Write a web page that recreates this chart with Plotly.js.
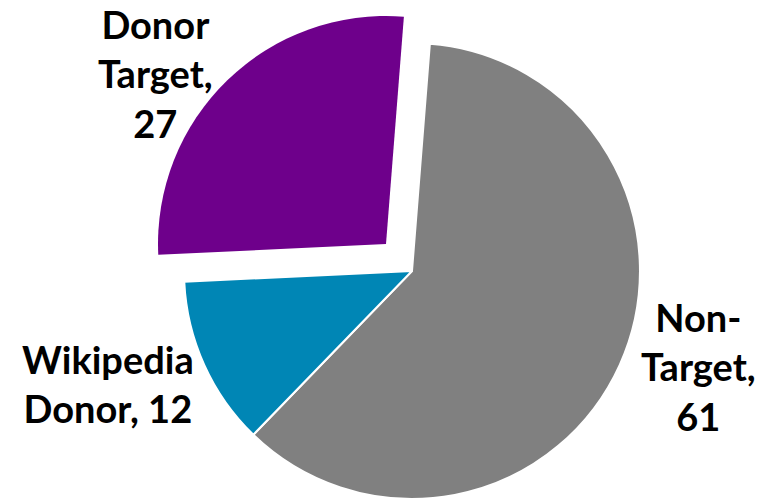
<!DOCTYPE html>
<html>
<head>
<meta charset="utf-8">
<script src="https://cdn.plot.ly/plotly-3.0.1.min.js"></script>
<style>
  html, body { margin: 0; padding: 0; background: #fff; overflow: hidden; }
  #chart { width: 768px; height: 499px; }
</style>
</head>
<body>
<div id="chart"></div>
<script>
// ---- Data ----
const categories = ["Non-Target", "Wikipedia Donor", "Donor Target"];
const values = [61, 12, 27];
const labelLines = ["Non-<br>Target", "Wikipedia<br>Donor", "Donor<br>Target"];
const valueSep = ["<br>", " ", "<br>"];
const colors = ["#808080", "#0086B5", "#6E008B"];

// ---- Build ----
const clear = "rgba(0,0,0,0)";
const FONT = "Lato, 'DejaVu Sans', sans-serif";

// base pie: Non-Target + Wikipedia Donor (Donor Target slot left empty)
const baseColors = colors.map((c, i) => i === 2 ? clear : c);
const baseLines = colors.map((c, i) => i === 2 ? clear : "#ffffff");
// exploded slice: only Donor Target visible
const expColors = colors.map((c, i) => i === 2 ? c : clear);

const common = {
  type: "pie",
  labels: categories,
  values: values,
  sort: false,
  direction: "clockwise",
  rotation: 4.5,
  textinfo: "none",
  hoverinfo: "label+value",
  showlegend: false
};

const traceBase = Object.assign({}, common, {
  marker: { colors: baseColors, line: { color: baseLines, width: 2 } },
  domain: { x: [0.2396, 0.8333], y: [0.0, 0.9138] }
});

const traceExp = Object.assign({}, common, {
  marker: { colors: expColors, line: { color: clear, width: 0 } },
  domain: { x: [0.2057, 0.7995], y: [0.0541, 0.9679] }
});

// label positions (pixels in the 768x499 frame)
const labelPos = [
  { x: 698, y: 366, align: "center" },
  { x: 108, y: 383, align: "center" },
  { x: 155, y: 73, align: "center" }
];

const annotations = categories.map((c, i) => ({
  text: "<b>" + labelLines[i] + "," + valueSep[i] + values[i] + "</b>",
  xref: "paper", yref: "paper",
  x: labelPos[i].x / 768, y: 1 - labelPos[i].y / 499,
  xanchor: "center", yanchor: "middle",
  align: labelPos[i].align,
  showarrow: false,
  font: { family: FONT, size: 38, color: "#000000" }
}));

const layout = {
  width: 768, height: 499,
  margin: { l: 0, r: 0, t: 0, b: 0 },
  paper_bgcolor: "#ffffff",
  plot_bgcolor: "#ffffff",
  font: { family: FONT },
  annotations: annotations
};

Plotly.newPlot("chart", [traceBase, traceExp], layout, { displayModeBar: false, staticPlot: true });
</script>
</body>
</html>
